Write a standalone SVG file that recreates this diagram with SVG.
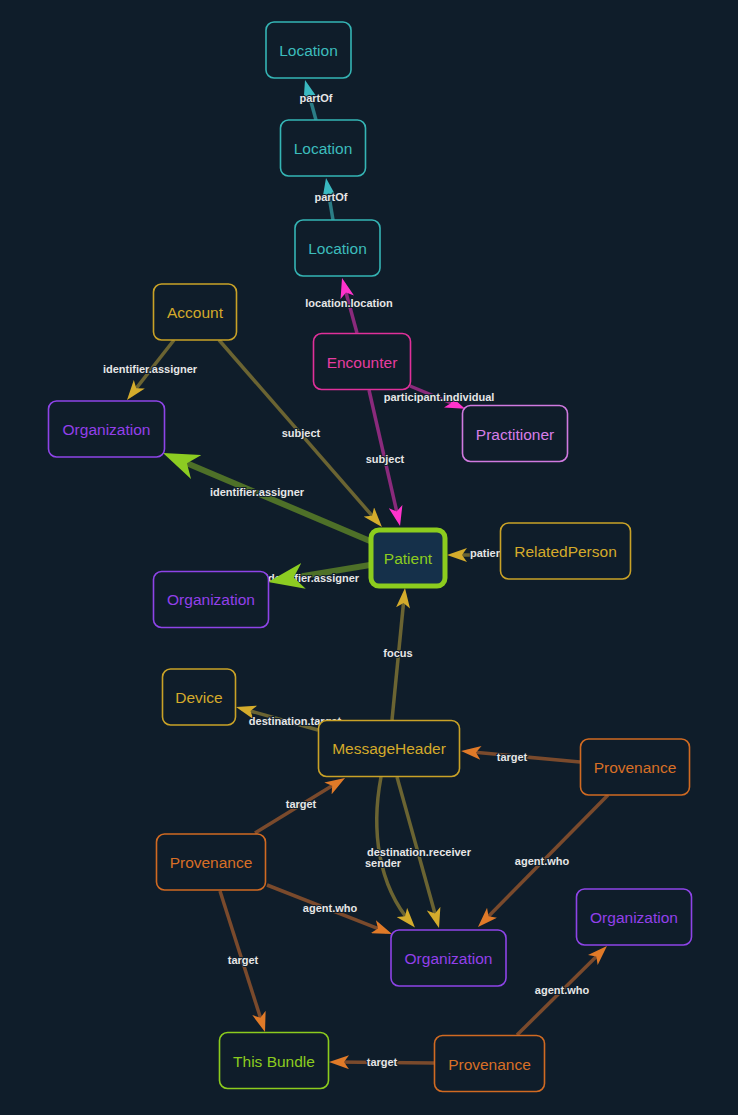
<svg xmlns="http://www.w3.org/2000/svg" width="738" height="1115" viewBox="0 0 738 1115">
<defs>
<style>
.bg{fill:#0f1d2a}
.n rect{fill:#0f1d2a;stroke-width:1.6}
.n text{font-family:"Liberation Sans",Arial,sans-serif;font-size:15.5px;text-anchor:middle;dominant-baseline:central}
.e{fill:none;stroke-width:3.5}
.thick{stroke-width:6}
.teal{stroke:#2b7d86}
.mag{stroke:#8a2a7c}
.olive{stroke:#6b6432}
.brown{stroke:#7a4a2c}
.green{stroke:#4e7028}
.lbl text{font-family:"Liberation Sans",Arial,sans-serif;font-size:11px;font-weight:bold;fill:#e6e6e6;stroke:#0f1d2a;stroke-width:2;paint-order:stroke;text-anchor:middle;dominant-baseline:central}
.loc rect{stroke:#35b5b5}.loc text{fill:#3cbcbc}
.gold rect{stroke:#c9a227}.gold text{fill:#d4aa2a}
.enc rect{stroke:#e0309a}.enc text{fill:#e63ca0}
.org rect{stroke:#8e44e8}.org text{fill:#9340ea}
.pra rect{stroke:#d07ae0}.pra text{fill:#d67ee8}
.prov rect{stroke:#d06a22}.prov text{fill:#d86f26}
.lime rect{stroke:#8ccc1e}.lime text{fill:#8ccc1e}
</style>
<marker id="ah-teal" viewBox="0 0 20 14" markerWidth="20" markerHeight="14" refX="14" refY="7" orient="auto" markerUnits="userSpaceOnUse"><path d="M0,0 L20,7 L0,14 L5,7 z" fill="#3ab9c1"/></marker>
<marker id="ah-pink" viewBox="0 0 20 14" markerWidth="20" markerHeight="14" refX="14" refY="7" orient="auto" markerUnits="userSpaceOnUse"><path d="M0,0 L20,7 L0,14 L5,7 z" fill="#ff33cc"/></marker>
<marker id="ah-gold" viewBox="0 0 20 14" markerWidth="20" markerHeight="14" refX="14" refY="7" orient="auto" markerUnits="userSpaceOnUse"><path d="M0,0 L20,7 L0,14 L5,7 z" fill="#d4ac2c"/></marker>
<marker id="ah-orange" viewBox="0 0 20 14" markerWidth="20" markerHeight="14" refX="14" refY="7" orient="auto" markerUnits="userSpaceOnUse"><path d="M0,0 L20,7 L0,14 L5,7 z" fill="#e07a28"/></marker>
<marker id="ah-lime" viewBox="0 0 36 26" markerWidth="36" markerHeight="26" refX="26" refY="13" orient="auto" markerUnits="userSpaceOnUse"><path d="M0,0 L36,13 L0,26 L10,13 z" fill="#8ccc22"/></marker>
</defs>
<rect class="bg" x="0" y="0" width="738" height="1115"/>
<g id="connectors">
<path class="e teal" d="M316,120 L306.6,85.8" marker-end="url(#ah-teal)"/>
<path class="e teal" d="M333,220 L327,184" marker-end="url(#ah-teal)"/>
<path class="e mag" d="M357,333 L343.6,283.8" marker-end="url(#ah-pink)"/>
<path class="e mag" d="M410,386 L459.5,406.5" marker-end="url(#ah-pink)"/>
<path class="e mag" d="M369,390 L398.7,520.2" marker-end="url(#ah-pink)"/>
<path class="e olive" d="M174,340 L130.7,395.3" marker-end="url(#ah-gold)"/>
<path class="e olive" d="M219,340 L378,522.5" marker-end="url(#ah-gold)"/>
<path class="e green thick" d="M370,541 L172.2,456.9" marker-end="url(#ah-lime)"/>
<path class="e green thick" d="M370,565 L277.9,580.3"/>
<path class="e olive" d="M500,555 L453,555" marker-end="url(#ah-gold)"/>
<path class="e olive" d="M392,720 L404.4,594" marker-end="url(#ah-gold)"/>
<path class="e olive" d="M318,730 L241.8,708.6" marker-end="url(#ah-gold)"/>
<path class="e brown" d="M580,762 L467,751.6" marker-end="url(#ah-orange)"/>
<path class="e brown" d="M255,833 L339.9,781.1" marker-end="url(#ah-orange)"/>
<path class="e olive" d="M381,777 C371,830 378,885 411,923" marker-end="url(#ah-gold)"/>
<path class="e olive" d="M397,777 L437.4,922.2" marker-end="url(#ah-gold)"/>
<path class="e brown" d="M608,795 L482.2,922.7" marker-end="url(#ah-orange)"/>
<path class="e brown" d="M267,885 L386.4,931.8" marker-end="url(#ah-orange)"/>
<path class="e brown" d="M220,891 L263.2,1026.3" marker-end="url(#ah-orange)"/>
<path class="e brown" d="M434,1063 L335,1062" marker-end="url(#ah-orange)"/>
<path class="e brown" d="M517,1035 L602.7,950.2" marker-end="url(#ah-orange)"/>
<g class="lbl">
<text x="316" y="98">partOf</text>
<text x="331" y="197">partOf</text>
<text x="349" y="303">location.location</text>
<text x="439" y="397">participant.individual</text>
<text x="385" y="459">subject</text>
<text x="150" y="369">identifier.assigner</text>
<text x="301" y="433">subject</text>
<text x="257" y="492">identifier.assigner</text>
<text x="312" y="578">identifier.assigner</text>
<text x="488" y="553">patient</text>
<text x="398" y="653">focus</text>
<text x="295" y="721">destination.target</text>
<text x="512" y="757">target</text>
<text x="301" y="804">target</text>
<text x="383" y="863">sender</text>
<text x="419" y="852">destination.receiver</text>
<text x="542" y="861">agent.who</text>
<text x="330" y="908">agent.who</text>
<text x="243" y="960">target</text>
<text x="382" y="1062">target</text>
<text x="562" y="990">agent.who</text>
</g>
<path class="e" stroke="none" d="M290,578.2 L277.9,580.3" marker-end="url(#ah-lime)"/>
</g>
<g id="location1" class="n loc"><rect x="266" y="22" width="85" height="56" rx="8"/><text x="308.5" y="50">Location</text></g>
<g id="location2" class="n loc"><rect x="280.5" y="120" width="85" height="56" rx="8"/><text x="323" y="148">Location</text></g>
<g id="location3" class="n loc"><rect x="295" y="220" width="85" height="56" rx="8"/><text x="337.5" y="248">Location</text></g>
<g id="account" class="n gold"><rect x="153.5" y="284" width="83" height="56" rx="8"/><text x="195" y="312">Account</text></g>
<g id="encounter" class="n enc"><rect x="313.5" y="333.5" width="97" height="56" rx="8"/><text x="362" y="362">Encounter</text></g>
<g id="organization1" class="n org"><rect x="48.5" y="401" width="116" height="56" rx="8"/><text x="106.5" y="429">Organization</text></g>
<g id="practitioner" class="n pra"><rect x="462.5" y="405.5" width="105" height="56" rx="8"/><text x="515" y="434">Practitioner</text></g>
<g id="patient" class="n lime"><rect x="371" y="530" width="74" height="56" rx="8" style="fill:#15304a;stroke-width:5"/><text x="408" y="558">Patient</text></g>
<g id="relatedperson" class="n gold"><rect x="500.5" y="523" width="130" height="56" rx="8"/><text x="565.5" y="551">RelatedPerson</text></g>
<g id="organization2" class="n org"><rect x="153.5" y="571.5" width="115" height="56" rx="8"/><text x="211" y="599.5">Organization</text></g>
<g id="device" class="n gold"><rect x="162.5" y="669" width="73" height="56" rx="8"/><text x="199" y="697">Device</text></g>
<g id="messageheader" class="n gold"><rect x="318.5" y="720.5" width="141" height="56" rx="8"/><text x="389" y="748.5">MessageHeader</text></g>
<g id="provenance1" class="n prov"><rect x="580.5" y="739" width="109" height="56" rx="8"/><text x="635" y="767">Provenance</text></g>
<g id="provenance2" class="n prov"><rect x="156.5" y="834" width="109" height="56" rx="8"/><text x="211" y="862">Provenance</text></g>
<g id="organization3" class="n org"><rect x="391" y="930" width="115" height="56" rx="8"/><text x="448.5" y="958">Organization</text></g>
<g id="organization4" class="n org"><rect x="576.5" y="889" width="115" height="56" rx="8"/><text x="634" y="917">Organization</text></g>
<g id="thisbundle" class="n lime"><rect x="219.5" y="1032.5" width="109" height="56" rx="8"/><text x="274" y="1061">This Bundle</text></g>
<g id="provenance3" class="n prov"><rect x="434.5" y="1035.5" width="110" height="56" rx="8"/><text x="489.5" y="1064">Provenance</text></g>
</svg>
